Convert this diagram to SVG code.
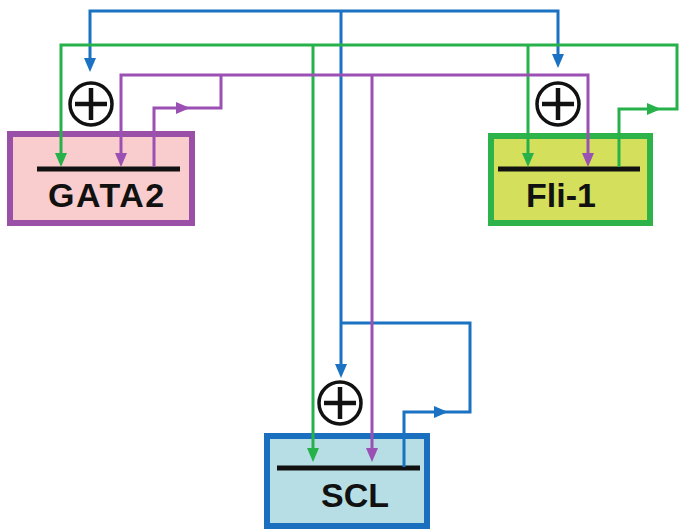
<svg xmlns="http://www.w3.org/2000/svg" width="680" height="529" viewBox="0 0 680 529">
  <style>
    .line { fill: none; stroke-width: 3; stroke-linejoin: miter; }
    .blue { stroke: #1b72c2; }
    .green { stroke: #27b14a; }
    .purple { stroke: #9b50b3; }
    .label { font-family: "Liberation Sans", Arial, sans-serif; font-weight: bold; font-size: 34px; fill: #111; }
    .bar { fill: #111; }
    .plus circle { fill: #fff; stroke: #111; stroke-width: 3.5; }
    .plus path { stroke: #111; stroke-width: 4.5; fill: none; }
  </style>
  <defs>
    <marker id="ab" markerUnits="userSpaceOnUse" markerWidth="14" markerHeight="14" refX="7" refY="7" orient="auto-start-reverse" viewBox="0 0 14 14">
      <path d="M0,1 L14,7 L0,13 z" fill="#1b72c2"/>
    </marker>
    <marker id="ag" markerUnits="userSpaceOnUse" markerWidth="14" markerHeight="14" refX="7" refY="7" orient="auto-start-reverse" viewBox="0 0 14 14">
      <path d="M0,1 L14,7 L0,13 z" fill="#27b14a"/>
    </marker>
    <marker id="ap" markerUnits="userSpaceOnUse" markerWidth="14" markerHeight="14" refX="7" refY="7" orient="auto-start-reverse" viewBox="0 0 14 14">
      <path d="M0,1 L14,7 L0,13 z" fill="#9b50b3"/>
    </marker>
  </defs>
  <rect width="680" height="529" fill="#fff"/>

  <g id="GATA2">
    <rect x="10" y="134" width="182" height="89" fill="#f9cdcd" stroke="#9b50a8" stroke-width="6"/>
    <rect class="bar" x="37" y="166.5" width="143" height="5"/>
    <text class="label" x="48" y="207" letter-spacing="1.5">GATA2</text>
  </g>
  <g id="Fli-1">
    <rect x="491" y="136" width="159" height="87" fill="#d4e05c" stroke="#2db34a" stroke-width="6"/>
    <rect class="bar" x="498" y="166.5" width="142" height="5"/>
    <text class="label" x="526" y="207">Fli-1</text>
  </g>
  <g id="SCL">
    <rect x="267" y="436" width="160" height="90" fill="#b7dee5" stroke="#1a70bf" stroke-width="6"/>
    <rect class="bar" x="277" y="465.5" width="143" height="5"/>
    <text class="label" x="321" y="507">SCL</text>
  </g>

  <g id="plus-GATA2" class="plus">
    <circle cx="91" cy="104" r="21"/>
    <path d="M75,104 H107 M91,88 V120"/>
  </g>
  <g id="plus-Fli-1" class="plus">
    <circle cx="558" cy="104" r="21"/>
    <path d="M542,104 H574 M558,88 V120"/>
  </g>
  <g id="plus-SCL" class="plus">
    <circle cx="340" cy="403" r="21"/>
    <path d="M324,403 H356 M340,387 V419"/>
  </g>

  <g id="connectors">
    <!-- blue (SCL outputs) -->
    <path class="line blue" d="M90,65 V11 H558 V61" marker-start="url(#ab)" marker-end="url(#ab)"/>
    <path class="line blue" d="M341,11 V371" marker-end="url(#ab)"/>
    <path class="line blue" d="M404,467 V412 H470 V323 H341"/>
    <polygon points="434,406 448,412 434,418" fill="#1b72c2"/>
    <!-- green (Fli-1 outputs) -->
    <path class="line green" d="M619,167 V109 H677 V45 H61 V160" marker-end="url(#ag)"/>
    <path class="line green" d="M313,45 V455" marker-end="url(#ag)"/>
    <path class="line green" d="M528,45 V160" marker-end="url(#ag)"/>
    <polygon points="647,103 661,109 647,115" fill="#27b14a"/>
    <!-- purple (GATA2 outputs) -->
    <path class="line purple" d="M121,160 V75 H588 V160" marker-start="url(#ap)" marker-end="url(#ap)"/>
    <path class="line purple" d="M154,167 V108 H221 V75"/>
    <path class="line purple" d="M372,75 V455" marker-end="url(#ap)"/>
    <polygon points="176,102 190,108 176,114" fill="#9b50b3"/>
  </g>
</svg>
